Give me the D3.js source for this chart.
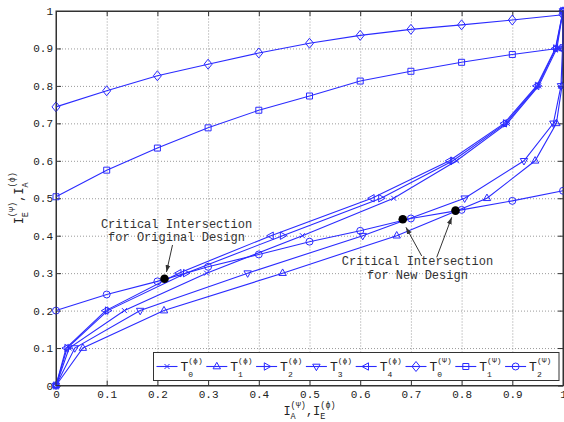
<!DOCTYPE html>
<html>
<head>
<meta charset="utf-8">
<script src="https://cdn.jsdelivr.net/npm/d3@7"></script>
<style>
  body { margin: 0; background: #fff; }
  text { font-family: "Liberation Mono", "DejaVu Sans Mono", monospace; }
</style>
</head>
<body>
<svg id="chart" width="564" height="422"></svg>
<script>
// psi curves: y values sampled at xLevels
var xLevels = [0, 0.1, 0.2, 0.3, 0.4, 0.5, 0.6, 0.7, 0.8, 0.9, 1];
var T0psi = [0.744, 0.787, 0.827, 0.858, 0.888, 0.914, 0.935, 0.951, 0.963, 0.976, 0.99];
var T1psi = [0.504, 0.575, 0.634, 0.688, 0.735, 0.773, 0.813, 0.839, 0.863, 0.884, 0.902];
var T2psi = [0.2, 0.243, 0.278, 0.317, 0.35, 0.384, 0.413, 0.446, 0.469, 0.493, 0.52];

// phi curves: x values sampled at yLevels
var yLevels = [0, 0.1, 0.2, 0.3, 0.4, 0.5, 0.6, 0.7, 0.8, 0.9, 1];
var T0phi = [0, 0.026, 0.135, 0.297, 0.486, 0.666, 0.79, 0.89, 0.952, 0.988, 1];
var T1phi = [0, 0.053, 0.213, 0.447, 0.672, 0.85, 0.945, 0.987, 0.998, 1, 1];
var T2phi = [0, 0.022, 0.102, 0.256, 0.447, 0.641, 0.783, 0.887, 0.95, 0.986, 1];
var T3phi = [0, 0.037, 0.166, 0.378, 0.605, 0.806, 0.923, 0.981, 0.996, 0.999, 1];
var T4phi = [0, 0.02, 0.098, 0.242, 0.424, 0.623, 0.776, 0.884, 0.948, 0.985, 1];

// critical intersections
var critOrig = [[0.214, 0.285]];
var critNew = [[0.684, 0.444], [0.788, 0.467]];

var tickVals = [0, 0.1, 0.2, 0.3, 0.4, 0.5, 0.6, 0.7, 0.8, 0.9, 1];
var tickText = ["0", "0.1", "0.2", "0.3", "0.4", "0.5", "0.6", "0.7", "0.8", "0.9", "1"];

var blue = "#2b2bff";
var svg = d3.select("#chart");
var pLeft = 56, pRight = 563, pTop = 11, pBottom = 385.5;

var x = d3.scaleLinear().domain([0, 1]).range([pLeft, pRight]);
var y = d3.scaleLinear().domain([0, 1]).range([pBottom, pTop]);

// grid
var inner = tickVals.slice(1, -1);
var gx = svg.append("g").attr("transform", "translate(0," + pBottom + ")")
  .call(d3.axisBottom(x).tickValues(inner).tickSize(-(pBottom - pTop)).tickFormat(""));
gx.select(".domain").remove();
gx.selectAll("line").attr("stroke", "#9a9a9a").attr("stroke-dasharray", "1,2");
var gy = svg.append("g").attr("transform", "translate(" + pLeft + ",0)")
  .call(d3.axisLeft(y).tickValues(inner).tickSize(-(pRight - pLeft)).tickFormat(""));
gy.select(".domain").remove();
gy.selectAll("line").attr("stroke", "#9a9a9a").attr("stroke-dasharray", "1,2");

// axes
var ax = svg.append("g").attr("transform", "translate(0," + pBottom + ")")
  .call(d3.axisBottom(x).tickValues(tickVals).tickFormat(function (d, i) { return tickText[i]; })
    .tickSizeInner(-5).tickSizeOuter(0).tickPadding(5));
var ay = svg.append("g").attr("transform", "translate(" + pLeft + ",0)")
  .call(d3.axisLeft(y).tickValues(tickVals).tickFormat(function (d, i) { return tickText[i]; })
    .tickSizeInner(-5).tickSizeOuter(0).tickPadding(3));
var at = svg.append("g").attr("transform", "translate(0," + pTop + ")")
  .call(d3.axisTop(x).tickValues(tickVals).tickFormat("").tickSizeInner(-5).tickSizeOuter(0));
var ar = svg.append("g").attr("transform", "translate(" + pRight + ",0)")
  .call(d3.axisRight(y).tickValues(tickVals).tickFormat("").tickSizeInner(-5).tickSizeOuter(0));
[ax, ay, at, ar].forEach(function (g) {
  g.attr("font-family", null).attr("font-size", 11);
  g.selectAll("line").attr("stroke", "#333");
  g.select(".domain").attr("stroke", "#333");
  g.selectAll("text").attr("fill", "#222");
});

// markers
function markerPath(type) {
  if (type === "x") return "M-2.5,-2.5L2.5,2.5M-2.5,2.5L2.5,-2.5";
  if (type === "tu") return "M0,-4.2L3.7,2.3L-3.7,2.3Z";
  if (type === "td") return "M0,4.2L3.7,-2.3L-3.7,-2.3Z";
  if (type === "tr") return "M4.2,0L-2.3,3.7L-2.3,-3.7Z";
  if (type === "tl") return "M-4.2,0L2.3,3.7L2.3,-3.7Z";
  if (type === "d") return "M0,-5L4,0L0,5L-4,0Z";
  if (type === "s") return "M-3,-3H3V3H-3Z";
  return d3.symbol(d3.symbolCircle, 38)();
}

var series = [
  { xs: T0phi, ys: yLevels, m: "x", sub: "0", sup: "(ϕ)" },
  { xs: T1phi, ys: yLevels, m: "tu", sub: "1", sup: "(ϕ)" },
  { xs: T2phi, ys: yLevels, m: "tr", sub: "2", sup: "(ϕ)" },
  { xs: T3phi, ys: yLevels, m: "td", sub: "3", sup: "(ϕ)" },
  { xs: T4phi, ys: yLevels, m: "tl", sub: "4", sup: "(ϕ)" },
  { xs: xLevels, ys: T0psi, m: "d", sub: "0", sup: "(Ψ)" },
  { xs: xLevels, ys: T1psi, m: "s", sub: "1", sup: "(Ψ)" },
  { xs: xLevels, ys: T2psi, m: "o", sub: "2", sup: "(Ψ)" }
];

var line = d3.line().x(function (d) { return x(d[0]); }).y(function (d) { return y(d[1]); });

series.forEach(function (s) {
  var pts = s.xs.map(function (v, i) { return [v, s.ys[i]]; });
  var g = svg.append("g");
  g.append("path").datum(pts).attr("d", line)
    .attr("fill", "none").attr("stroke", blue).attr("stroke-width", 1.1);
  g.selectAll("path.mk").data(pts).enter().append("path").attr("class", "mk")
    .attr("transform", function (d) { return "translate(" + x(d[0]) + "," + y(d[1]) + ")"; })
    .attr("d", markerPath(s.m))
    .attr("fill", "none").attr("stroke", blue).attr("stroke-width", 1);
});

// critical points
svg.selectAll("circle.crit").data(critOrig.concat(critNew)).enter().append("circle")
  .attr("class", "crit")
  .attr("cx", function (d) { return x(d[0]); })
  .attr("cy", function (d) { return y(d[1]); })
  .attr("r", 4.3).attr("fill", "#000");

// annotations
svg.append("defs").append("marker").attr("id", "ah")
  .attr("viewBox", "0 0 10 10").attr("refX", 10).attr("refY", 5)
  .attr("markerWidth", 7).attr("markerHeight", 7).attr("orient", "auto")
  .append("path").attr("d", "M0,1.5L10,5L0,8.5Z").attr("fill", "#333");

var arrows = [
  [[0.2298, 0.3752], [0.2179, 0.303]],
  [[0.7213, 0.3458], [0.6903, 0.4224]],
  [[0.7509, 0.3423], [0.7805, 0.4491]]
];
arrows.forEach(function (a) {
  svg.append("line")
    .attr("x1", x(a[0][0])).attr("y1", y(a[0][1]))
    .attr("x2", x(a[1][0])).attr("y2", y(a[1][1]))
    .attr("stroke", "#333").attr("stroke-width", 1).attr("marker-end", "url(#ah)");
});

var notes = [
  { x: 0.2377, y: 0.4193, t: "Critical Intersection" },
  { x: 0.2377, y: 0.3859, t: "for Original Design" },
  { x: 0.713, y: 0.3218, t: "Critical Intersection" },
  { x: 0.713, y: 0.2857, t: "for New Design" }
];
svg.selectAll("text.note").data(notes).enter().append("text").attr("class", "note")
  .attr("x", function (d) { return x(d.x); })
  .attr("y", function (d) { return y(d.y); })
  .attr("text-anchor", "middle").attr("font-size", 12).attr("fill", "#333")
  .text(function (d) { return d.t; });

// symbol text with stacked sub/superscript
function drawSym(g, parts, fs, sfs, supDy, subDy) {
  var cx = 0;
  parts.forEach(function (p) {
    var t = g.append("text").attr("x", cx).attr("y", 0).attr("font-size", fs).attr("fill", "#222").text(p.b);
    cx += t.node().getComputedTextLength();
    var w = 0;
    if (p.sup) {
      var s1 = g.append("text").attr("x", cx).attr("y", supDy).attr("font-size", sfs).attr("fill", "#222").text(p.sup);
      w = s1.node().getComputedTextLength();
    }
    if (p.sub) {
      var s2 = g.append("text").attr("x", cx).attr("y", subDy).attr("font-size", sfs).attr("fill", "#222").text(p.sub);
      w = Math.max(w, s2.node().getComputedTextLength());
    }
    cx += w;
  });
  return cx;
}

// legend
var lgX = 153.5, lgY = 352.5, lgW = 405.5, lgH = 28, step = 49.8;
svg.append("rect").attr("x", lgX).attr("y", lgY).attr("width", lgW).attr("height", lgH)
  .attr("fill", "#fff").attr("stroke", "#333").attr("stroke-width", 1);
series.forEach(function (s, i) {
  var ox = lgX + 3 + i * step, cy = lgY + 14;
  svg.append("line").attr("x1", ox).attr("x2", ox + 21).attr("y1", cy).attr("y2", cy)
    .attr("stroke", blue).attr("stroke-width", 1.1);
  svg.append("path").attr("transform", "translate(" + (ox + 10.5) + "," + cy + ")")
    .attr("d", markerPath(s.m)).attr("fill", "none").attr("stroke", blue);
  var g = svg.append("g").attr("transform", "translate(" + (ox + 24) + "," + (cy + 4.5) + ")");
  drawSym(g, [{ b: "T", sub: s.sub, sup: s.sup }], 13, 8, -8, 6);
});

// axis labels
var xl = svg.append("g");
var wx = drawSym(xl, [{ b: "I", sub: "A", sup: "(Ψ)" }, { b: "," }, { b: "I", sub: "E", sup: "(ϕ)" }], 12, 8.5, -7, 3.5);
xl.attr("transform", "translate(" + ((pLeft + pRight) / 2 - wx / 2) + ",415)");

var yl = svg.append("g");
var wy = drawSym(yl, [{ b: "I", sub: "E", sup: "(Ψ)" }, { b: "," }, { b: "I", sub: "A", sup: "(ϕ)" }], 12, 8.5, -8.5, 5);
yl.attr("transform", "translate(23," + ((pTop + pBottom) / 2) + ") rotate(-90) translate(" + (-wy / 2) + ",0)");

// frame
svg.append("rect").attr("x", pLeft).attr("y", pTop).attr("width", pRight - pLeft).attr("height", pBottom - pTop)
  .attr("fill", "none").attr("stroke", "#333").attr("stroke-width", 1);
</script>
</body>
</html>
